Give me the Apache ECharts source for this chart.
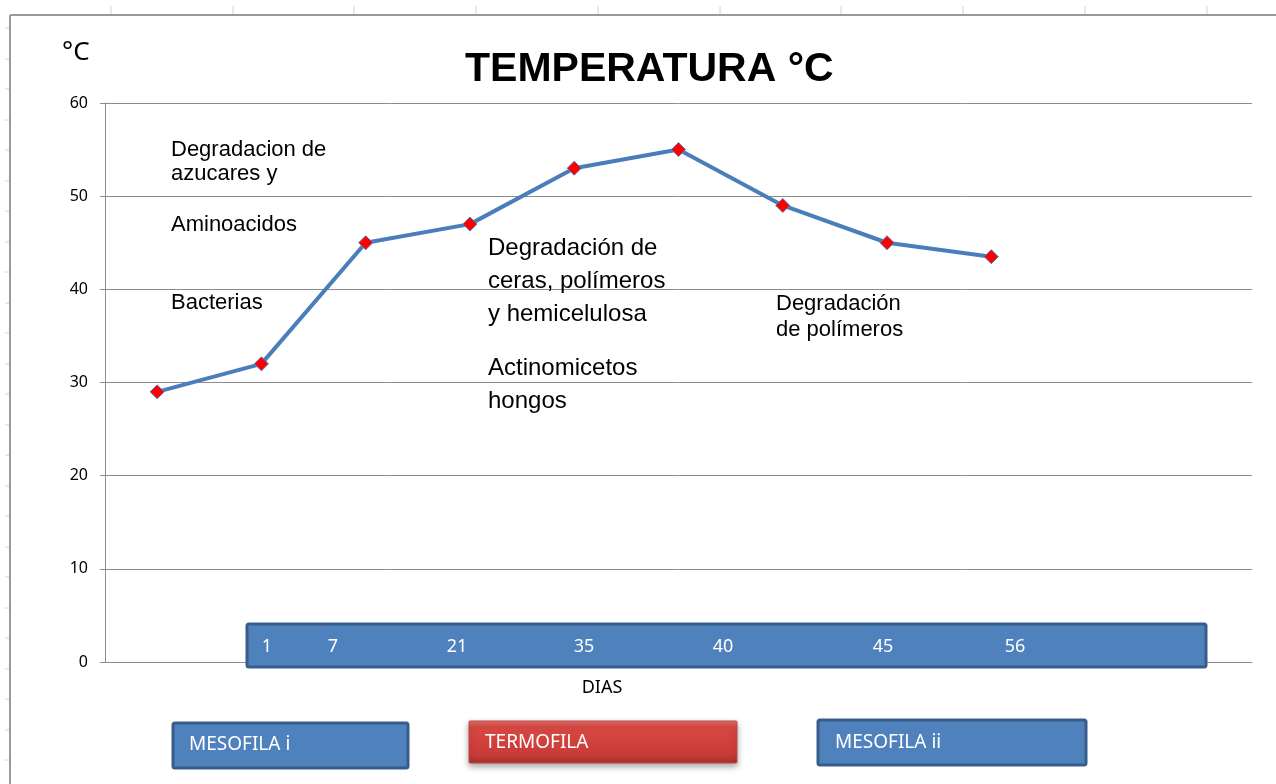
<!DOCTYPE html>
<html>
<head>
<meta charset="utf-8">
<script src="https://cdn.jsdelivr.net/npm/echarts@6/dist/echarts.min.js"></script>
<style>
  html, body { margin: 0; padding: 0; background: #fff; }
  #chart { width: 1276px; height: 784px; }
</style>
</head>
<body>
<div id="chart"></div>
<script>
// puntos de la curva (11 posiciones en el eje, 9 con dato)
var puntos = ['p1', 'p2', 'p3', 'p4', 'p5', 'p6', 'p7', 'p8', 'p9', 'p10', 'p11'];
var temperatura = [29, 32, 45, 47, 53, 55, 49, 45, 43.5, null, null];
var dias = ['1', '7', '21', '35', '40', '45', '56'];
var fases = ['MESOFILA i', 'TERMOFILA', 'MESOFILA ii'];

var sans = '"Noto Sans", "Open Sans", sans-serif';
var arial = '"Liberation Sans", Arial, sans-serif';

var myChart = echarts.init(document.getElementById('chart'));

var graficos = [];

// marco de la hoja
graficos.push({ type: 'line', shape: { x1: 10, y1: 15, x2: 1276, y2: 15 }, style: { stroke: '#9a9a9a', lineWidth: 2 }, silent: true });
graficos.push({ type: 'line', shape: { x1: 10, y1: 15, x2: 10, y2: 784 }, style: { stroke: '#9a9a9a', lineWidth: 2 }, silent: true });
var topTicks = [111, 233, 354, 476, 598, 720, 841, 963, 1085, 1207];
for (var i = 0; i < topTicks.length; i++) {
    graficos.push({ type: 'line', shape: { x1: topTicks[i], y1: 6, x2: topTicks[i], y2: 14 }, style: { stroke: '#d4d4d4', lineWidth: 1 }, silent: true });
}
for (var y = 28; y < 784; y += 30.5) {
    graficos.push({ type: 'line', shape: { x1: 5, y1: Math.round(y), x2: 9, y2: Math.round(y) }, style: { stroke: '#d4d4d4', lineWidth: 1 }, silent: true });
}

// unidad
graficos.push({ type: 'text', style: { x: 62, y: 53, text: '°C', font: '26px ' + sans, fill: '#000', textVerticalAlign: 'middle' } });
// nombre del eje
graficos.push({ type: 'text', style: { x: 602, y: 688, text: 'DIAS', font: '18px ' + sans, fill: '#000', textAlign: 'center', textVerticalAlign: 'middle' } });

// notas
var notas = [
    [171, 150, 'Degradacion de', 22], [171, 174, 'azucares y', 22], [171, 225, 'Aminoacidos', 22], [171, 303, 'Bacterias', 22],
    [488, 248, 'Degradación de', 24], [488, 281, 'ceras, polímeros', 24], [488, 314, 'y hemicelulosa', 24],
    [488, 368, 'Actinomicetos', 24], [488, 401, 'hongos', 24],
    [776, 304, 'Degradación', 22], [776, 330, 'de polímeros', 22]
];
for (var n = 0; n < notas.length; n++) {
    graficos.push({ type: 'text', z: 10, style: { x: notas[n][0], y: notas[n][1], text: notas[n][2], font: notas[n][3] + 'px ' + arial, fill: '#000', textVerticalAlign: 'middle' } });
}

// caja de dias
graficos.push({ type: 'rect', z: 20, shape: { x: 247, y: 624, width: 959, height: 43, r: 2 }, style: { fill: '#4f81bd', stroke: '#385d8a', lineWidth: 3 } });
var diasX = [267, 333, 457, 584, 723, 883, 1015];
for (var d = 0; d < dias.length; d++) {
    graficos.push({ type: 'text', z: 21, style: { x: diasX[d], y: 647, text: dias[d], font: '18px ' + sans, fill: '#fff', textAlign: 'center', textVerticalAlign: 'middle' } });
}

// fases
graficos.push({ type: 'rect', z: 20, shape: { x: 173, y: 723, width: 235, height: 45, r: 2 }, style: { fill: '#4f81bd', stroke: '#385d8a', lineWidth: 3 } });
graficos.push({ type: 'text', z: 21, style: { x: 189, y: 745, text: fases[0], font: '19px ' + sans, fill: '#fff', textVerticalAlign: 'middle' } });
graficos.push({ type: 'rect', z: 20, shape: { x: 469, y: 721, width: 268, height: 42, r: 1 }, style: {
    fill: new echarts.graphic.LinearGradient(0, 0, 0, 1, [
        { offset: 0, color: '#e4716d' }, { offset: 0.15, color: '#d84843' }, { offset: 0.8, color: '#c93b37' }, { offset: 1, color: '#a8302d' }
    ]),
    stroke: '#be4b48', lineWidth: 1, shadowBlur: 6, shadowOffsetY: 3, shadowColor: 'rgba(0,0,0,0.35)' } });
graficos.push({ type: 'text', z: 21, style: { x: 485, y: 743, text: fases[1], font: '19px ' + sans, fill: '#fff', textVerticalAlign: 'middle' } });
graficos.push({ type: 'rect', z: 20, shape: { x: 818, y: 720, width: 268, height: 45, r: 2 }, style: { fill: '#4f81bd', stroke: '#385d8a', lineWidth: 3 } });
graficos.push({ type: 'text', z: 21, style: { x: 835, y: 743, text: fases[2], font: '19px ' + sans, fill: '#fff', textVerticalAlign: 'middle' } });

var option = {
    backgroundColor: '#fff',
    animation: false,
    title: {
        text: 'TEMPERATURA °C',
        left: 460,
        top: 44,
        textStyle: { fontFamily: arial, fontSize: 41, fontWeight: 'bold', color: '#000' }
    },
    grid: { left: 105, right: 24, top: 103, bottom: 122 },
    xAxis: {
        type: 'category',
        data: puntos,
        boundaryGap: true,
        axisLine: { show: true, lineStyle: { color: '#8c8c8c', width: 1 } },
        axisTick: { show: false },
        axisLabel: { show: false },
        splitLine: { show: false }
    },
    yAxis: {
        type: 'value',
        min: 0,
        max: 60,
        interval: 10,
        axisLine: { show: true, lineStyle: { color: '#8c8c8c', width: 1 } },
        axisTick: { show: true, length: 5, lineStyle: { color: '#8c8c8c' } },
        axisLabel: { margin: 17, fontFamily: sans, fontSize: 16, color: '#000' },
        splitLine: { show: true, lineStyle: { color: '#8c8c8c', width: 1 } }
    },
    series: [
        {
            name: 'Temperatura',
            type: 'line',
            data: temperatura,
            lineStyle: { color: '#4a7ebb', width: 4 },
            symbol: 'diamond',
            symbolSize: 14,
            itemStyle: { color: '#ff0000', borderColor: '#4a7ebb', borderWidth: 1 },
            z: 5
        }
    ],
    graphic: graficos
};
myChart.setOption(option);
</script>
</body>
</html>
